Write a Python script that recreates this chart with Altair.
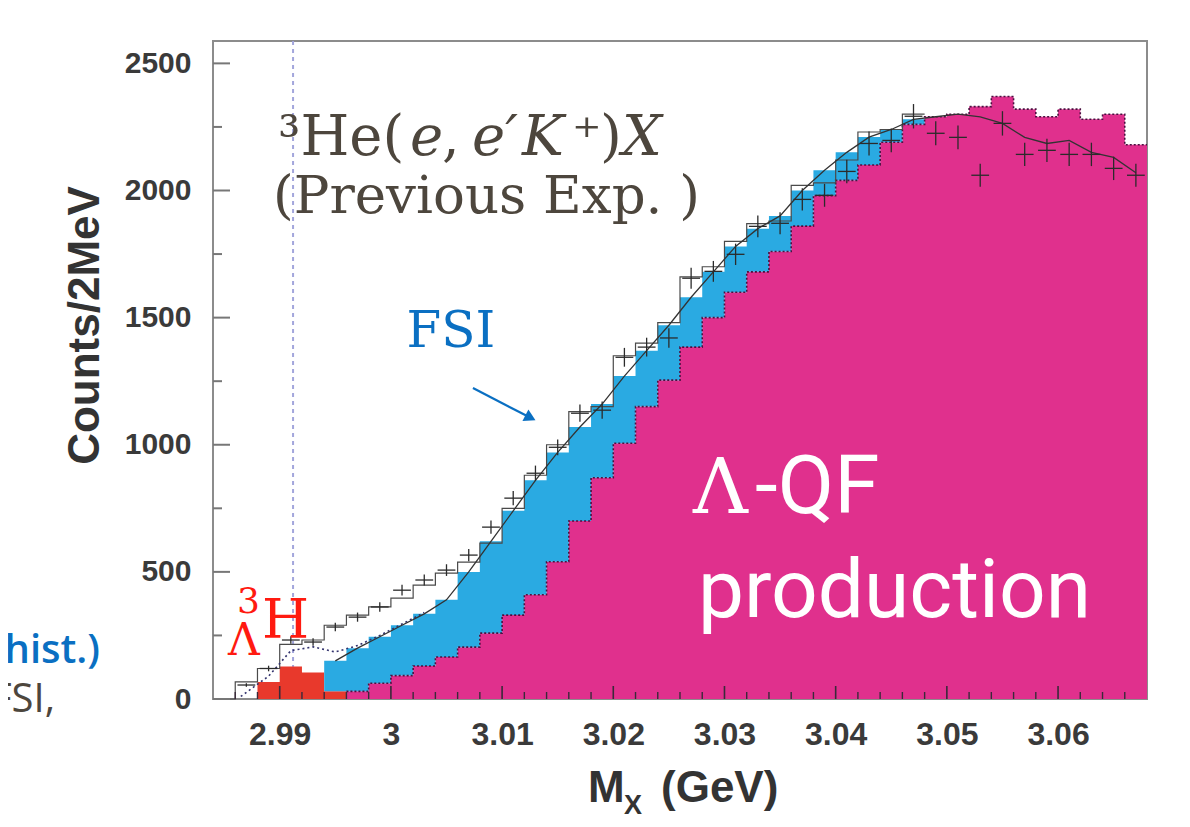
import altair as alt
import pandas as pd

# ---------------- data (2 MeV bins) ----------------
centers = [2.985, 2.987, 2.989, 2.991, 2.993, 2.995, 2.997, 2.999,
           3.001, 3.003, 3.005, 3.007, 3.009, 3.011, 3.013, 3.015, 3.017, 3.019,
           3.021, 3.023, 3.025, 3.027, 3.029, 3.031, 3.033, 3.035, 3.037, 3.039,
           3.041, 3.043, 3.045, 3.047, 3.049, 3.051, 3.053, 3.055, 3.057, 3.059,
           3.061, 3.063, 3.065, 3.067]
half_bin = 0.001
x_end = 3.068

# Lambda-3H peak (red), quasi-free Lambda (magenta), FSI (cyan) contributions per bin
red = [0, 0, 67, 128, 104, 30] + [0] * 36
qf = [0, 0, 0, 0, 0, 0, 30, 62, 92, 130, 165, 204, 259, 330, 410, 540, 700, 870,
      1006, 1150, 1254, 1384, 1500, 1600, 1680, 1760, 1860, 1980, 2040, 2100, 2190,
      2260, 2290, 2300, 2330, 2370, 2320, 2290, 2320, 2280, 2300, 2180]
fsi = [0, 0, 0, 0, 0, 120, 170, 183, 198, 205, 225, 296, 361, 410, 450, 430, 370,
       290, 264, 220, 216, 196, 180, 180, 170, 140, 140, 100, 110, 110, 50, 20] + [0] * 10

# data points (crosses), bins 1..41
data_y = [55, 120, 232, 224, 283, 322, 362, 428, 468, 507, 566, 676, 790, 888, 990,
          1124, 1136, 1344, 1384, 1420, 1655, 1682, 1749, 1859, 1871, 1965, 1981,
          2075, 2185, 2197, 2292, 2225, 2209, 2060, 2264, 2142, 2158, 2142, 2142,
          2087, 2060]
data_err = [7, 11, 15, 15, 17, 18, 19, 21, 22, 23, 24, 26, 28, 30, 31, 34, 34, 37,
            37, 38, 41, 41, 42, 43, 43, 44, 45, 46, 47, 47, 48, 47, 47, 45, 48, 46,
            46, 46, 46, 46, 45]

# open histogram, bins 0..31
open_hist = [0, 67, 120, 215, 232, 290, 330, 362, 397, 448, 495, 538, 613, 750, 880,
             1000, 1130, 1150, 1350, 1400, 1480, 1660, 1700, 1800, 1870, 1880, 2020,
             2030, 2120, 2230, 2240, 2300]

# total fit curve (solid), bins 5..41
fit_line = [150, 200, 245, 290, 335, 390, 500, 620, 740, 860, 970, 1070, 1160, 1270,
            1370, 1470, 1580, 1680, 1780, 1850, 1900, 2000, 2080, 2150, 2210, 2240,
            2280, 2290, 2300, 2290, 2264, 2209, 2185, 2197, 2150, 2130, 2070]

# dotted fit curve in the low-mass region
dot_x = [2.9865, 2.989, 2.991, 2.993, 2.995, 2.997, 2.999, 3.001, 3.003]
dot_y = [10, 90, 190, 205, 185, 210, 250, 295, 340]

lambda3h_mass = 2.9912

# axes
y_major = [0, 500, 1000, 1500, 2000, 2500]
y_minor = [250, 750, 1250, 1750, 2250]
x_major = [2.99, 3.0, 3.01, 3.02, 3.03, 3.04, 3.05, 3.06]
x_minor = [2.986, 2.988, 2.992, 2.994, 2.996, 2.998, 3.002, 3.004, 3.006, 3.008,
           3.012, 3.014, 3.016, 3.018, 3.022, 3.024, 3.026, 3.028, 3.032, 3.034,
           3.036, 3.038, 3.042, 3.044, 3.046, 3.048, 3.052, 3.054, 3.056, 3.058,
           3.062, 3.064, 3.066]

# ---------------- layout ----------------
W, H = 934, 658
xs = alt.Scale(domain=[2.984, 3.068], nice=False, zero=False)
ys = alt.Scale(domain=[0, 2588], nice=False, zero=False)

x_axis = alt.Axis(values=x_major, format="~g", labelFont="Liberation Sans",
                  labelFontWeight="bold", labelFontSize=32, labelColor="#3a3a3a",
                  labelPadding=20, ticks=False, domain=False, grid=False, title=None)
y_axis = alt.Axis(values=y_major, format="d", labelFont="Liberation Sans",
                  labelFontWeight="bold", labelFontSize=30, labelColor="#3a3a3a",
                  labelPadding=22, ticks=False, domain=False, grid=False,
                  title="Counts/2MeV", titleFont="Liberation Sans", titleFontWeight="bold",
                  titleFontSize=44, titleColor="#333333", titleAngle=270,
                  titleX=-128, titleY=284, titleAlign="center", titleBaseline="middle")


def X(field, **kw):
    return alt.X(field, type="quantitative", scale=xs, axis=x_axis, **kw)


def Y(field, **kw):
    return alt.Y(field, type="quantitative", scale=ys, axis=y_axis, **kw)


edges = [round(c - half_bin, 4) for c in centers] + [x_end]


def ext(v):
    return list(v) + [v[-1]]


red_top = list(red)
qf_top = [r + q for r, q in zip(red, qf)]
tot_top = [a + f for a, f in zip(qf_top, fsi)]
fill = pd.DataFrame({"x": edges, "zero": [0] * len(edges), "r1": ext(red_top),
                     "m1": ext(qf_top), "c1": ext(tot_top)})

vline = alt.Chart(pd.DataFrame({"x": [lambda3h_mass]})).mark_rule(
    color="#a3a6dc", strokeWidth=2, strokeDash=[4, 4]).encode(
    x=X("x"), y=alt.value(0), y2=alt.value(H))

red_area = alt.Chart(fill).mark_area(interpolate="step-after", color="#e8392c").encode(
    x=X("x"), y=Y("zero"), y2="r1:Q")
mag_area = alt.Chart(fill).mark_area(interpolate="step-after", color="#e0308d").encode(
    x=X("x"), y=Y("r1"), y2="m1:Q")
cyan_area = alt.Chart(fill).mark_area(interpolate="step-after", color="#2aaae2").encode(
    x=X("x"), y=Y("m1"), y2="c1:Q")

edge_df = pd.DataFrame({"x": edges[6:], "y": ext(qf_top[6:])})
mag_edge = alt.Chart(edge_df).mark_line(interpolate="step-after", color="#4a1040",
                                        strokeWidth=1.6, strokeDash=[2, 2]).encode(
    x=X("x"), y=Y("y"))

oh_edges = edges[:len(open_hist)] + [edges[len(open_hist)]]
oh_df = pd.DataFrame({"x": oh_edges, "y": ext(open_hist)})
open_line = alt.Chart(oh_df).mark_line(interpolate="step-after", color="#4a4a4a",
                                       strokeWidth=1.2).encode(x=X("x"), y=Y("y"))

dot_df = pd.DataFrame({"x": dot_x, "y": dot_y})
dot_line = alt.Chart(dot_df).mark_line(color="#33336e", strokeWidth=1.6,
                                       strokeDash=[2, 3]).encode(x=X("x"), y=Y("y"))

fit_df = pd.DataFrame({"x": centers[5:], "y": fit_line})
fit = alt.Chart(fit_df).mark_line(color="#333333", strokeWidth=1.3).encode(
    x=X("x"), y=Y("y"))

pts = pd.DataFrame({"x": centers[1:], "y": data_y, "e": data_err})
pts["lo"] = pts["y"] - pts["e"]
pts["hi"] = pts["y"] + pts["e"]
pts["xl"] = pts["x"] - 0.0008
pts["xr"] = pts["x"] + 0.0008
cross_v = alt.Chart(pts).mark_rule(color="#2b2b2b", strokeWidth=1.3).encode(
    x=X("x"), y=Y("lo"), y2="hi:Q")
cross_h = alt.Chart(pts).mark_rule(color="#2b2b2b", strokeWidth=1.3).encode(
    x=X("xl"), x2="xr:Q", y=Y("y"))

# inward ticks
yt_major = alt.Chart(pd.DataFrame({"v": y_major})).mark_rule(color="#777777", strokeWidth=2).encode(
    y=Y("v"), x=alt.value(0), x2=alt.value(17))
yt_minor = alt.Chart(pd.DataFrame({"v": y_minor})).mark_rule(color="#777777", strokeWidth=2).encode(
    y=Y("v"), x=alt.value(0), x2=alt.value(9))
xt_major = alt.Chart(pd.DataFrame({"v": x_major})).mark_rule(color="#3a2a3a", strokeWidth=1.6).encode(
    x=X("v"), y=alt.value(H), y2=alt.value(H - 13))
xt_minor = alt.Chart(pd.DataFrame({"v": x_minor})).mark_rule(color="#3a2a3a", strokeWidth=1.4).encode(
    x=X("v"), y=alt.value(H), y2=alt.value(H - 7))

# ---------------- annotations ----------------
TITLE_COL = "#4d463d"
title_up = pd.DataFrame({"x": [2.98985, 3.00460, 3.01629, 3.01880],
                         "y": [2140, 2140, 2140, 2140],
                         "t": ["\u00b3He(", ",", "\u207a", ")"]})
title_it = pd.DataFrame({"x": [3.00172, 3.00730, 3.01179, 3.02078],
                         "y": [2140, 2140, 2140, 2140],
                         "t": ["e", "e\u2032", "K", "X"]})
title2 = pd.DataFrame({"x": [2.98940], "y": [1911], "t": ["(Previous Exp. )"]})

t_up = alt.Chart(title_up).mark_text(align="left", baseline="alphabetic", font="DejaVu Serif",
                                     fontSize=56, color=TITLE_COL).encode(x=X("x"), y=Y("y"), text="t:N")
t_it = alt.Chart(title_it).mark_text(align="left", baseline="alphabetic", font="DejaVu Serif",
                                     fontStyle="italic", fontSize=56, color=TITLE_COL).encode(
    x=X("x"), y=Y("y"), text="t:N")
t_2 = alt.Chart(title2).mark_text(align="left", baseline="alphabetic", font="DejaVu Serif",
                                  fontSize=53, color=TITLE_COL).encode(x=X("x"), y=Y("y"), text="t:N")

fsi_lab = alt.Chart(pd.DataFrame({"x": [3.0054], "y": [1384], "t": ["FSI"]})).mark_text(
    align="center", baseline="alphabetic", font="DejaVu Serif", fontSize=50,
    color="#0a6fc2").encode(x=X("x"), y=Y("y"), text="t:N")
arrow_df = pd.DataFrame({"x": [3.00738], "y": [1223], "x2": [3.01265], "y2": [1104]})
arrow = alt.Chart(arrow_df).mark_rule(color="#0a6fc2", strokeWidth=2.2).encode(
    x=X("x"), y=Y("y"), x2="x2:Q", y2="y2:Q")
head = alt.Chart(pd.DataFrame({"x": [3.01255], "y": [1106]})).mark_point(
    shape="triangle-right", filled=True, size=170, angle=27, color="#0a6fc2",
    opacity=1).encode(x=X("x"), y=Y("y"))

hyp_H = alt.Chart(pd.DataFrame({"x": [2.98841], "y": [240], "t": ["H"]})).mark_text(
    align="left", baseline="alphabetic", font="DejaVu Serif", fontSize=54,
    color="#ff1a10").encode(x=X("x"), y=Y("y"), text="t:N")
hyp_3 = alt.Chart(pd.DataFrame({"x": [2.98616], "y": [338], "t": ["3"]})).mark_text(
    align="left", baseline="alphabetic", font="DejaVu Serif", fontSize=36,
    color="#ff1a10").encode(x=X("x"), y=Y("y"), text="t:N")
hyp_L = alt.Chart(pd.DataFrame({"x": [2.98535], "y": [173], "t": ["\u039b"]})).mark_text(
    align="left", baseline="alphabetic", font="DejaVu Serif", fontSize=44,
    color="#ff1a10").encode(x=X("x"), y=Y("y"), text="t:N")

qf_L = alt.Chart(pd.DataFrame({"x": [3.02717], "y": [732], "t": ["\u039b"]})).mark_text(
    align="left", baseline="alphabetic", font="DejaVu Serif", fontSize=76,
    color="white").encode(x=X("x"), y=Y("y"), text="t:N")
qf_rest = alt.Chart(pd.DataFrame({"x": [3.03275, 3.02762], "y": [732, 322],
                                  "t": ["-QF", "production"]})).mark_text(
    align="left", baseline="alphabetic", font="Roboto", fontSize=82,
    color="white").encode(x=X("x"), y=Y("y"), text="t:N")

# x-axis title pieces (outside the plot, pixel positions)
one = pd.DataFrame({"k": [0]})
xt_M = alt.Chart(one).mark_text(align="left", baseline="alphabetic", font="Liberation Sans",
                                fontWeight="bold", fontSize=44, color="#333333").encode(
    x=alt.value(375), y=alt.value(761), text=alt.value("M"))
xt_X = alt.Chart(one).mark_text(align="left", baseline="alphabetic", font="Liberation Sans",
                                fontWeight="bold", fontSize=27, color="#333333").encode(
    x=alt.value(411), y=alt.value(773), text=alt.value("X"))
xt_G = alt.Chart(one).mark_text(align="left", baseline="alphabetic", font="Liberation Sans",
                                fontWeight="bold", fontSize=44, color="#333333").encode(
    x=alt.value(448), y=alt.value(761), text=alt.value("(GeV)"))

# fragments of the neighbouring slide text at the left edge
side1 = alt.Chart(one).mark_text(align="right", baseline="alphabetic", font="Open Sans",
                                 fontWeight=600, fontSize=40, color="#0a6fc2").encode(
    x=alt.value(-113), y=alt.value(622), text=alt.value("(sim. hist.)"))
side2 = alt.Chart(one).mark_text(align="right", baseline="alphabetic", font="Open Sans",
                                 fontSize=40, color="#4d463d").encode(
    x=alt.value(-158), y=alt.value(671), text=alt.value("QF, FSI,"))

chart = alt.layer(
    vline, red_area, mag_area, cyan_area, mag_edge, open_line, dot_line, fit,
    cross_v, cross_h, yt_major, yt_minor, xt_major, xt_minor,
    t_up, t_it, t_2, fsi_lab, arrow, head, hyp_3, hyp_H, hyp_L, qf_L, qf_rest,
    xt_M, xt_X, xt_G, side1, side2
).properties(
    width=W, height=H,
    padding={"left": 205, "top": 33, "right": 30, "bottom": 120},
    autosize=alt.AutoSizeParams(type="none"),
    background="white"
).configure_view(stroke="#8c8c8c", strokeWidth=2)

chart.save("out.html", embed_options={"renderer": "svg", "actions": False})
